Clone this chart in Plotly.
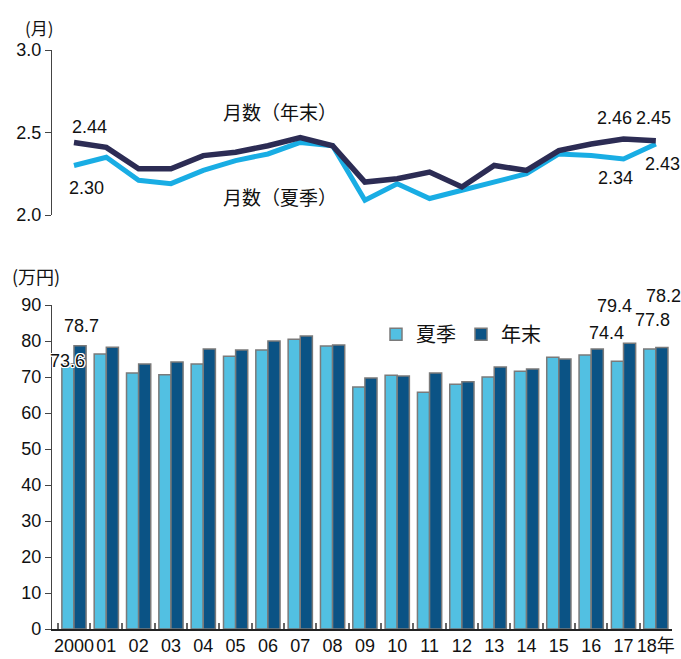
import plotly.graph_objects as go

years = ["2000", "01", "02", "03", "04", "05", "06", "07", "08", "09",
         "10", "11", "12", "13", "14", "15", "16", "17", "18年"]

# 支給月数
months_winter = [2.44, 2.41, 2.28, 2.28, 2.36, 2.38, 2.42, 2.47, 2.42, 2.20,
                 2.22, 2.26, 2.17, 2.30, 2.27, 2.39, 2.43, 2.46, 2.45]
months_summer = [2.30, 2.35, 2.21, 2.19, 2.27, 2.33, 2.37, 2.44, 2.42, 2.09,
                 2.19, 2.10, 2.15, 2.20, 2.25, 2.37, 2.36, 2.34, 2.43]

# 支給額（万円）
bonus_summer = [73.6, 76.4, 71.1, 70.6, 73.6, 75.8, 77.5, 80.5, 78.6, 67.2,
                70.5, 65.8, 68.0, 70.0, 71.6, 75.5, 76.1, 74.4, 77.8]
bonus_winter = [78.7, 78.3, 73.6, 74.2, 77.8, 77.5, 80.0, 81.4, 78.9, 69.7,
                70.3, 71.1, 68.7, 72.8, 72.2, 75.0, 77.8, 79.4, 78.2]

FONT = "Liberation Sans, Noto Sans CJK JP, sans-serif"
JFONT = "Noto Sans CJK JP, sans-serif"
LIGHT_BAR = "#52c0e2"
DARK_BAR = "#0b5385"
LIGHT_LINE = "#19ade4"
DARK_LINE = "#2c2c54"

fig = go.Figure()

fig.add_trace(go.Bar(x=years, y=bonus_summer, name="夏季",
                     marker=dict(color=LIGHT_BAR, line=dict(color="#7a7a7a", width=1.5)),
                     xaxis="x", yaxis="y"))
fig.add_trace(go.Bar(x=years, y=bonus_winter, name="年末",
                     marker=dict(color=DARK_BAR, line=dict(color="#7a7a7a", width=1.5)),
                     xaxis="x", yaxis="y"))

fig.add_trace(go.Scatter(x=years, y=months_summer, mode="lines", showlegend=False,
                         line=dict(color=LIGHT_LINE, width=5), xaxis="x2", yaxis="y2"))
fig.add_trace(go.Scatter(x=years, y=months_winter, mode="lines", showlegend=False,
                         line=dict(color=DARK_LINE, width=5.5), xaxis="x2", yaxis="y2"))

xr = [-0.68, 18.5]

annotations = []

def lab(text, x, y, xs, ys, xref="x", yref="y", shadow=None, size=18, family=FONT):
    f = dict(family=family, size=size, color="#111111")
    if shadow:
        f["shadow"] = shadow
    annotations.append(dict(text=text, x=x, y=y, xref=xref, yref=yref,
                            xshift=xs, yshift=ys, showarrow=False,
                            xanchor="center", yanchor="middle", font=f))

white_outline = ("1px 1px 0 white, -1px -1px 0 white, 1px -1px 0 white, "
                 "-1px 1px 0 white, 0 1px 0 white, 0 -1px 0 white, 1px 0 0 white, -1px 0 0 white")

# line chart labels (x given as category index)
lab(f"{months_winter[0]:.2f}", 0, months_winter[0], 16, 15, "x2", "y2")
lab(f"{months_summer[0]:.2f}", 0, months_summer[0], 13, -22, "x2", "y2")
lab(f"{months_winter[17]:.2f}", 17, months_winter[17], -9, 21, "x2", "y2")
lab(f"{months_winter[18]:.2f}", 18, months_winter[18], -2, 23, "x2", "y2")
lab(f"{months_summer[17]:.2f}", 17, months_summer[17], -8, -19, "x2", "y2")
lab(f"{months_summer[18]:.2f}", 18, months_summer[18], 7, -20, "x2", "y2")
lab("月数（年末）", 6.38, 2.625, 0, 0, "x2", "y2", size=19, family=JFONT)
lab("月数（夏季）", 6.38, 2.11, 0, 0, "x2", "y2", size=19, family=JFONT)

# bar chart labels
lab(f"{bonus_winter[0]:.1f}", 0, bonus_winter[0], 8, 20)
lab(f"{bonus_summer[0]:.1f}", 0, bonus_summer[0], -6, 3, shadow=white_outline)
lab(f"{bonus_winter[17]:.1f}", 17, bonus_winter[17], -9, 37)
lab(f"{bonus_summer[17]:.1f}", 17, bonus_summer[17], -17, 28)
lab(f"{bonus_winter[18]:.1f}", 18, bonus_winter[18], 8, 51)
lab(f"{bonus_summer[18]:.1f}", 18, bonus_summer[18], -3, 29)

# unit labels
lab("(月)", -0.02, 0.9885, 0, 0, "paper", "paper", size=17, family=JFONT)
lab("(万円)", -0.026, 0.5796, 0, 0, "paper", "paper", size=18, family=JFONT)

fig.update_layout(
    width=681, height=659,
    margin=dict(l=52, r=9, t=20, b=30),
    paper_bgcolor="white", plot_bgcolor="white",
    font=dict(family=FONT, size=18, color="#111111"),
    barmode="group", bargap=0.25, bargroupgap=0,
    showlegend=True,
    legend=dict(orientation="h", x=(376 - 52) / 620, y=0.484, xref="paper", yref="paper",
                xanchor="left", yanchor="middle",
                font=dict(family=JFONT, size=20, color="#111111"),
                bgcolor="rgba(0,0,0,0)", itemwidth=30, tracegroupgap=0),
    xaxis=dict(domain=[0, 1], range=xr, type="category", anchor="y",
               showline=True, linecolor="#222222", linewidth=1.5,
               ticks="inside", tickson="boundaries", ticklen=6, tickcolor="#666666",
               tickwidth=1.5, showgrid=False, zeroline=False, tickangle=0,
               automargin=False,
               tickfont=dict(family=FONT, size=18, color="#111111")),
    yaxis=dict(domain=[0, 0.532], range=[0, 90], anchor="x",
               tickvals=list(range(0, 91, 10)), automargin=False,
               showline=True, linecolor="#444444", linewidth=1.2,
               ticks="outside", ticklen=6, tickcolor="#444444", tickwidth=1.2,
               showgrid=False, zeroline=False,
               tickfont=dict(family=FONT, size=18, color="#111111")),
    xaxis2=dict(domain=[0, 1], range=xr, type="category", anchor="y2",
                visible=False, showgrid=False),
    yaxis2=dict(domain=[0.6798, 0.9507], range=[2.0, 3.0], anchor="x2",
                tickvals=[2.0, 2.5, 3.0], tickformat=".1f", automargin=False,
                showline=True, linecolor="#444444", linewidth=1.2,
                ticks="outside", ticklen=6, tickcolor="#444444", tickwidth=1.2,
                showgrid=False, zeroline=False,
                tickfont=dict(family=FONT, size=18, color="#111111")),
    annotations=annotations,
)

fig.write_html("out.html", config={"displayModeBar": False},
               post_script="document.body.style.margin='0';document.body.style.overflow='hidden';")
